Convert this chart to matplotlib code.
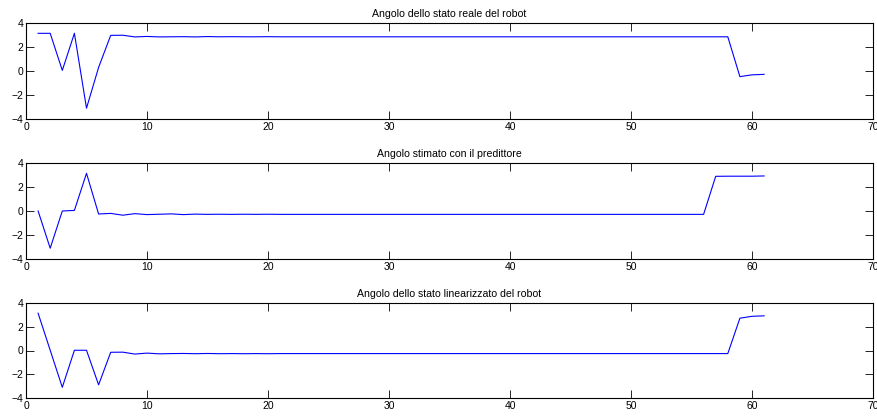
import matplotlib
matplotlib.use("Agg")
import matplotlib.pyplot as plt
import numpy as np

plt.rcParams['font.family'] = ['Liberation Sans', 'DejaVu Sans']

steps = list(range(1, 62))

real_angle = ([3.14, 3.14, 0.05, 3.14, -3.10, 0.30, 2.97, 2.98, 2.84, 2.88,
               2.84, 2.85, 2.86, 2.84, 2.87, 2.85, 2.86, 2.85, 2.85, 2.86]
              + [2.85] * 38
              + [-0.47, -0.32, -0.28])

pred_angle = ([0.00, -3.10, 0.00, 0.05, 3.14, -0.25, -0.20, -0.35, -0.22, -0.30,
               -0.27, -0.24, -0.30, -0.26, -0.28, -0.27, -0.28, -0.27, -0.28, -0.27]
              + [-0.28] * 36
              + [2.89, 2.90, 2.90, 2.90, 2.92])

lin_angle = ([3.14, 0.02, -3.10, 0.02, 0.02, -2.89, -0.15, -0.14, -0.30, -0.22,
              -0.28, -0.26, -0.25, -0.27, -0.25, -0.27, -0.26, -0.27, -0.26, -0.27]
             + [-0.26] * 38
             + [2.72, 2.88, 2.92])

titles = ["Angolo dello stato reale del robot",
          "Angolo stimato con il predittore",
          "Angolo dello stato linearizzato del robot"]
series = [real_angle, pred_angle, lin_angle]

W, H = 877, 417
fig = plt.figure(figsize=(W / 100, H / 100), dpi=100)

# axes boxes in pixels: (top, bottom)
boxes = [(23, 119), (163, 259), (303, 398)]
left, right = 26, 873

for (top, bottom), title, ys in zip(boxes, titles, series):
    ax = fig.add_axes([left / W, 1 - bottom / H, (right - left) / W, (bottom - top) / H])
    ax.plot(steps, ys, color=(0, 0, 1), linewidth=0.8)
    ax.set_xlim(0, 70)
    ax.set_ylim(-4, 4)
    ax.set_xticks(range(0, 71, 10))
    ax.set_yticks([-4, -2, 0, 2, 4])
    ax.set_yticklabels(["\u22124", "\u22122", "0", "2", "4"])
    ax.tick_params(direction='in', length=5.8, width=0.6, labelsize=7.5,
                   top=True, right=True, pad=2)
    for s in ax.spines.values():
        s.set_linewidth(0.8)
    ax.set_title(title, fontsize=7.6, pad=4)

fig.savefig("out.png", dpi=100)
